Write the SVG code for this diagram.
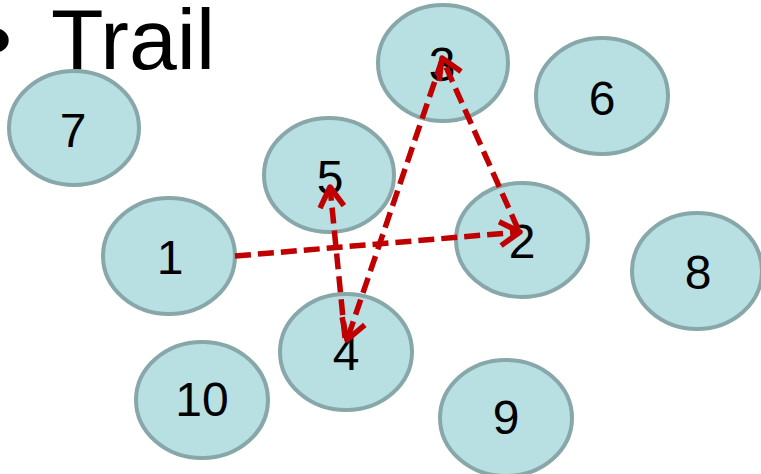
<svg xmlns="http://www.w3.org/2000/svg" width="761" height="474" viewBox="0 0 761 474">
<style>
.node ellipse{fill:#b8dfe2;stroke:#88a7a9;stroke-width:4}
.node text,.title{font-family:"Liberation Sans",Arial,sans-serif;fill:#000}
.node text{font-size:48px;text-anchor:middle}
.title{font-size:86px}
.edge{fill:none;stroke:#c00000;stroke-width:5.5;stroke-dasharray:16 7;marker-end:url(#arr)}
</style>
<defs>
<marker id="arr" markerUnits="userSpaceOnUse" viewBox="-26 -16 30 32" refX="0" refY="0" markerWidth="30" markerHeight="32" orient="auto" overflow="visible">
<path d="M-20,-12 L0,0 L-20,12" fill="none" stroke="#c00000" stroke-width="5.5" stroke-linejoin="round"/>
</marker>
</defs>
<rect width="761" height="474" fill="#fff"/>
<text class="title" x="-18" y="69">•</text>
<text class="title" x="51" y="69">Trail</text>
<g id="node7" class="node"><ellipse cx="74" cy="128" rx="65" ry="57"/><text x="73" y="147">7</text></g>
<g id="node5" class="node"><ellipse cx="329" cy="175" rx="65" ry="57"/><text x="330" y="194">5</text></g>
<g id="node3" class="node"><ellipse cx="443" cy="63" rx="65" ry="58"/><text x="442" y="81">3</text></g>
<g id="node6" class="node"><ellipse cx="602" cy="96" rx="66" ry="58"/><text x="602" y="115">6</text></g>
<g id="node2" class="node"><ellipse cx="522" cy="240" rx="66" ry="57"/><text x="522" y="258">2</text></g>
<g id="node8" class="node"><ellipse cx="697" cy="271" rx="65" ry="58"/><text x="698" y="289">8</text></g>
<g id="node9" class="node"><ellipse cx="506" cy="418" rx="66" ry="58"/><text x="506" y="434">9</text></g>
<g id="node1" class="node"><ellipse cx="169" cy="256" rx="66" ry="58"/><text x="170" y="274">1</text></g>
<g id="node4" class="node"><ellipse cx="346" cy="352" rx="66" ry="58"/><text x="346" y="370">4</text></g>
<g id="node10" class="node"><ellipse cx="202" cy="400" rx="66" ry="58"/><text x="202" y="416">10</text></g>
<g id="connectors">
<path class="edge" d="M235,256 L520,232"/>
<path class="edge" d="M518,229 L442,58"/>
<path class="edge" d="M442,60 L347,340"/>
<path class="edge" d="M345,338 L330,187"/>
</g>
</svg>
